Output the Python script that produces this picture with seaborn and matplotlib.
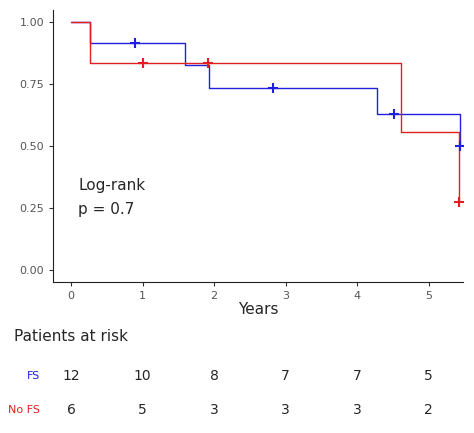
import matplotlib
matplotlib.use("Agg")
import matplotlib.pyplot as plt
import seaborn as sns
import pandas as pd

# step curves (time, survival)
fs_time = [0, 0.27, 1.6, 1.93, 4.27, 5.43]
fs_surv = [1.0, 0.918, 0.827, 0.734, 0.629, 0.50]
nofs_time = [0, 0.27, 4.61, 5.42]
nofs_surv = [1.0, 0.834, 0.556, 0.274]
# censor marks
fs_cens_t = [0.9, 2.82, 4.51, 5.43]
fs_cens_s = [0.918, 0.734, 0.629, 0.50]
nofs_cens_t = [1.0, 1.92, 5.42]
nofs_cens_s = [0.834, 0.834, 0.274]
# risk table
risk_times = [0, 1, 2, 3, 4, 5]
fs_risk = [12, 10, 8, 7, 7, 5]
nofs_risk = [6, 5, 3, 3, 3, 2]

sns.set_style("white")
fig = plt.figure(figsize=(4.74, 4.33), dpi=100)
ax = fig.add_axes([0.112, 0.349, 0.865, 0.628])

df = pd.concat([
    pd.DataFrame({"t": fs_time, "s": fs_surv, "g": "FS"}),
    pd.DataFrame({"t": nofs_time, "s": nofs_surv, "g": "No FS"}),
])
sns.lineplot(data=df, x="t", y="s", hue="g", palette={"FS": "#2020e0", "No FS": "#e02020"},
             drawstyle="steps-post", linewidth=1.0, legend=False, ax=ax)
ax.scatter(fs_cens_t, fs_cens_s, marker="+", s=50, color="#2020e0", linewidths=1.5, zorder=3)
ax.scatter(nofs_cens_t, nofs_cens_s, marker="+", s=50, color="#e02020", linewidths=1.5, zorder=3)

ax.set_xlim(-0.25, 5.48)
ax.set_ylim(-0.05, 1.05)
ax.set_xticks(risk_times)
ax.set_yticks([0, 0.25, 0.5, 0.75, 1.0])
ax.set_yticklabels(["0.00", "0.25", "0.50", "0.75", "1.00"])
ax.tick_params(axis="both", labelsize=8, labelcolor="#555555", color="#333333",
               length=3, left=True, bottom=True)
for sp in ax.spines.values():
    sp.set_color("#222222")
ax.set_xlabel("Years", fontsize=11, labelpad=1)
ax.set_ylabel("")
sns.despine(ax=ax)
ax.text(0.1, 0.32, "Log-rank", fontsize=11)
ax.text(0.1, 0.225, "p = 0.7", fontsize=11)

fig.text(0.03, 0.212, "Patients at risk", fontsize=11)
rax = fig.add_axes([0.112, 0.02, 0.865, 0.16])
rax.set_xlim(-0.25, 5.48)
rax.set_ylim(0, 2)
rax.axis("off")
for t, a, b in zip(risk_times, fs_risk, nofs_risk):
    rax.text(t, 1.4, str(a), ha="center", va="center", fontsize=10)
    rax.text(t, 0.41, str(b), ha="center", va="center", fontsize=10)
fig.text(0.085, 0.132, "FS", color="#2020e0", fontsize=8, ha="right", va="center")
fig.text(0.085, 0.053, "No FS", color="#e02020", fontsize=8, ha="right", va="center")

fig.savefig("out.png", dpi=100)
